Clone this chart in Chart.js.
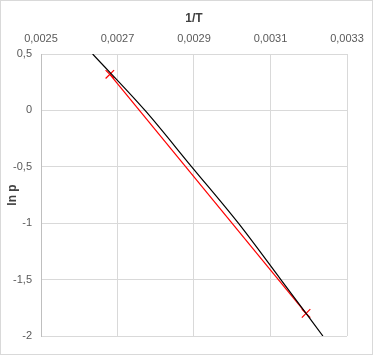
<!DOCTYPE html>
<html>
<head>
<meta charset="utf-8">
<script src="https://cdn.jsdelivr.net/npm/chart.js@4/dist/chart.umd.min.js"></script>
<style>
  html, body { margin: 0; padding: 0; background: #fff; }
  #wrap { width: 373px; height: 355px; }
</style>
</head>
<body>
<div id="wrap"><canvas id="chart" width="373" height="355"></canvas></div>
<script>
// black curve (ln p against 1/T)
const curveX = [0.002635, 0.002772, 0.002894, 0.003016, 0.003127, 0.003237];
const curveY = [0.5, 0, -0.5, -1, -1.5, -2];

// red fitted line, two end points
const fitX = [0.00268, 0.003193];
const fitY = [0.32, -1.80];

const xTicks = [0.0025, 0.0027, 0.0029, 0.0031, 0.0033];
const yTicks = [0.5, 0, -0.5, -1, -1.5, -2];

function toPoints(xs, ys) {
    let pts = [];
    for (let i = 0; i < xs.length; i++) {
        pts.push({x: xs[i], y: ys[i]});
    }
    return pts;
}

function commaNum(v, digits) {
    let r = Math.round(v * Math.pow(10, digits)) / Math.pow(10, digits);
    return String(r).replace('.', ',');
}

const frame = {
    id: 'frame',
    beforeDraw(chart) {
        let ctx = chart.ctx;
        ctx.save();
        ctx.fillStyle = '#ffffff';
        ctx.fillRect(0, 0, chart.width, chart.height);
        ctx.strokeStyle = '#d9d9d9';
        ctx.lineWidth = 1;
        ctx.strokeRect(0.5, 0.5, chart.width - 1, chart.height - 1);
        ctx.restore();
    }
};

const font = "'Liberation Sans', Arial, sans-serif";

let ctx = document.getElementById('chart').getContext('2d');
new Chart(ctx, {
    type: 'scatter',
    data: {
        datasets: [
            {
                label: 'curve',
                data: toPoints(curveX, curveY),
                showLine: true,
                borderColor: '#000000',
                borderWidth: 1.2,
                pointRadius: 0,
                cubicInterpolationMode: 'monotone'
            },
            {
                label: 'fit',
                data: toPoints(fitX, fitY),
                showLine: true,
                borderColor: '#ff0000',
                backgroundColor: '#ff0000',
                borderWidth: 1.2,
                pointStyle: 'crossRot',
                pointRadius: 6,
                pointBorderWidth: 1.2
            }
        ]
    },
    options: {
        responsive: false,
        animation: false,
        layout: { padding: { left: 0, top: 0, right: 26, bottom: 19 } },
        plugins: {
            legend: { display: false },
            tooltip: { enabled: false }
        },
        scales: {
            x: {
                type: 'linear',
                position: 'top',
                min: 0.0025,
                max: 0.0033,
                afterBuildTicks: function (scale) {
                    scale.ticks = xTicks.map(v => ({value: v}));
                },
                afterFit: function (scale) { scale.height = 54; },
                ticks: {
                    color: '#595959',
                    font: { family: font, size: 11 },
                    padding: 8,
                    maxRotation: 0,
                    callback: function (value) { return commaNum(value, 4); }
                },
                grid: { color: '#d9d9d9', drawTicks: false },
                border: { color: '#d9d9d9' },
                title: {
                    display: true,
                    text: '1/T',
                    color: '#404040',
                    font: { family: font, size: 12, weight: 'bold' },
                    padding: { top: 11, bottom: 0 }
                }
            },
            y: {
                type: 'linear',
                min: -2,
                max: 0.5,
                afterBuildTicks: function (scale) {
                    scale.ticks = yTicks.map(v => ({value: v}));
                },
                afterFit: function (scale) { scale.width = 41; },
                ticks: {
                    color: '#595959',
                    font: { family: font, size: 11 },
                    padding: 9,
                    callback: function (value) { return commaNum(value, 1); }
                },
                grid: { color: '#d9d9d9', drawTicks: false },
                border: { color: '#bfbfbf' },
                title: {
                    display: true,
                    text: 'ln p',
                    color: '#404040',
                    font: { family: font, size: 12, weight: 'bold' },
                    padding: { top: 5, bottom: 0 }
                }
            }
        }
    },
    plugins: [frame]
});
</script>
</body>
</html>
